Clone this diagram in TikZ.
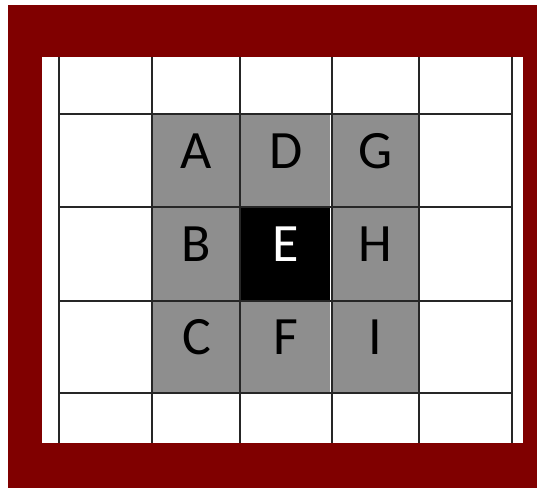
\documentclass[tikz,border=0pt]{standalone}
\usepackage{fontspec}
\setmainfont{Carlito}
\usepackage{tikz}
\usepackage{xcolor}
\usetikzlibrary{positioning}
\definecolor{framered}{RGB}{128,0,0}
\definecolor{cellgray}{RGB}{142,142,142}
\tikzset{
  cell/.style={minimum width=89pt, minimum height=93pt, inner sep=0pt, fill=cellgray,
    text height=35pt, text depth=20pt, font=\fontsize{54}{60}\selectfont},
  gridline/.style={line width=1.3pt, black!85}
}

\begin{document}
\begin{tikzpicture}[x=1pt,y=-1pt]
  \useasboundingbox (0,0) rectangle (537,488);
  \fill[white] (0,0) rectangle (537,488);
  \fill[framered] (8,5) rectangle (537,488);
  \fill[white] (42,57) rectangle (523,443);
  % neighbourhood cells
  \node[cell] (A) at (196.5,160.5) {A};
  \node[cell, below=0pt of A] (B) {B};
  \node[cell, below=0pt of B] (C) {C};
  \node[cell, right=0pt of A] (D) {D};
  \node[cell, right=0pt of B, fill=black, text=white] (E) {E};
  \node[cell, right=0pt of C] (F) {F};
  \node[cell, right=0pt of D] (G) {G};
  \node[cell, right=0pt of E] (H) {H};
  \node[cell, right=0pt of F] (I) {I};
  % grid
  \foreach \x in {59,152,240,332,419,512}
    \draw[gridline] (\x,57) -- (\x,443);
  \foreach \y in {114,207,301,393}
    \draw[gridline] (59,\y) -- (512,\y);
\end{tikzpicture}
\end{document}
